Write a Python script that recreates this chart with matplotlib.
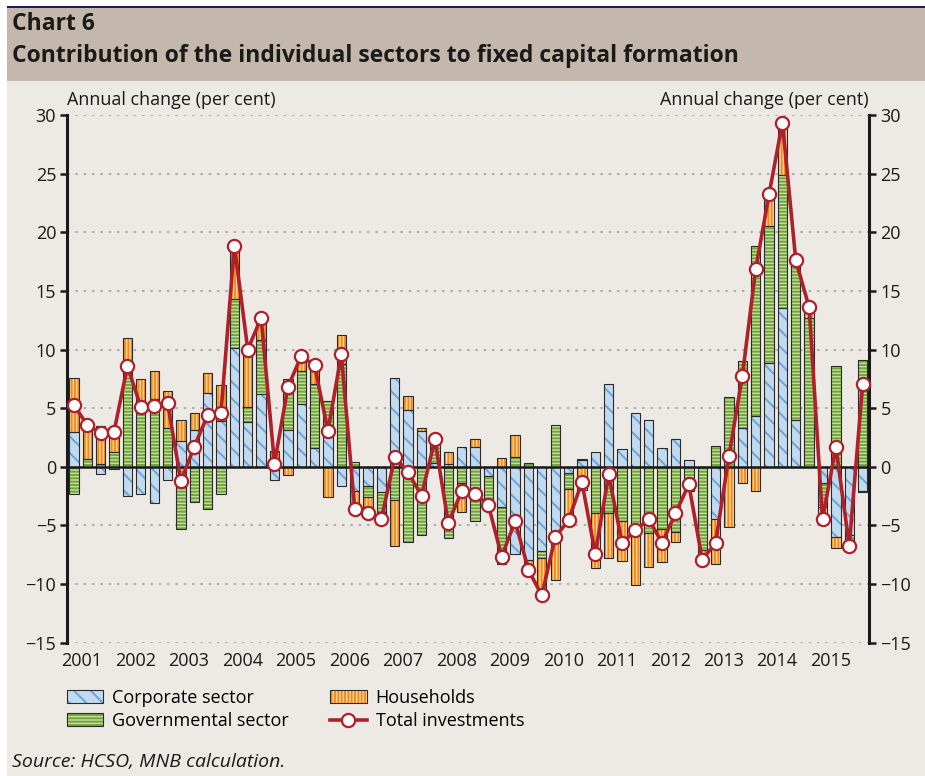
import numpy as np
import matplotlib.pyplot as plt
from matplotlib.patches import Rectangle, Patch
from matplotlib.lines import Line2D

plt.rcParams['font.family'] = ['Open Sans', 'DejaVu Sans']
plt.rcParams['hatch.linewidth'] = 1.35

years = [str(y) for y in range(2001, 2016)]

# quarterly contributions, 2001 Q1 - 2015 Q4 (percentage points)
corporate = [2.93, 0, -0.65, -0.2,
             -2.47, -2.36, -3.07, -1.14,
             2.2, 3.1, 6.33, 3.92,
             10.14, 3.84, 6.25, -1.14,
             3.13, 5.34, 1.62, 2.5,
             -1.62, -2.05, -1.65, -2.19,
             7.59, 4.83, 3.07, 0.35,
             0.2, 1.7, 1.7, -0.77,
             -3.41, -7.44, -7.95, -7.19,
             -5.48, -0.57, 0.55, 1.28,
             7.02, 1.5, 4.63, 4.03,
             1.59, 2.41, 0.6, 0,
             -4.49, 0, 3.32, 4.35,
             8.89, 13.58, 3.95, 0,
             -1.34, -5.97, -5.8, -2.07]
government = [-2.36, 0.68, 0.28, 1.3,
              8.0, 5.2, 5.74, 3.3,
              -5.34, -2.98, -3.58, -2.36,
              4.15, 1.22, 4.6, 0,
              4.34, 2.79, 5.48, 3.07,
              8.8, 0.37, -0.91, -1.65,
              -2.87, -6.42, -5.82, 1.65,
              -6.1, -1.36, -4.6, -2.45,
              -4.9, 0.85, 0.34, -0.57,
              3.6, -1.36, 0.15, -3.98,
              -3.98, -4.6, -5.82, -5.68,
              -5.3, -5.6, -2.1, -7.1,
              1.79, 5.97, 5.68, 14.51,
              11.65, 11.28, 13.24, 12.65,
              -2.07, 8.6, -0.4, 9.15]
households = [4.67, 2.85, 3.2, 1.7,
              3.0, 2.27, 2.44, 3.18,
              1.83, 1.45, 1.67, 3.07,
              4.57, 4.94, 1.85, 1.36,
              -0.74, 1.1, 1.5, -2.56,
              2.45, -2.01, -1.28, -0.6,
              -3.86, 1.22, 0.25, 0,
              1.05, -2.47, 0.63, 0,
              0.71, 1.9, -1.34, -3.3,
              -4.18, -2.6, -2.0, -4.69,
              -3.78, -3.44, -4.26, -2.87,
              -2.8, -0.85, 0, -0.85,
              -3.84, -5.11, -1.34, -2.05,
              2.7, 4.5, 0.3, 0.9,
              -1.1, -0.99, -0.55, -0.1]
total = [5.26, 3.55, 2.9, 3.0,
         8.6, 5.08, 5.2, 5.45,
         -1.22, 1.73, 4.4, 4.63,
         18.86, 10.0, 12.7, 0.28,
         6.79, 9.45, 8.64, 3.04,
         9.6, -3.6, -3.9, -4.46,
         0.82, -0.48, -2.47, 2.33,
         -4.8, -2.1, -2.3, -3.24,
         -7.67, -4.63, -8.8, -10.97,
         -6.0, -4.55, -1.31, -7.44,
         -0.65, -6.5, -5.43, -4.46,
         -6.5, -3.96, -1.5, -7.93,
         -6.48, 0.91, 7.73, 16.85,
         23.24, 29.35, 17.6, 13.6,
         -4.49, 1.7, -6.73, 7.02]

W, H = 925, 776
fig = plt.figure(figsize=(W / 100, H / 100), dpi=100)
fig.patch.set_facecolor('white')

# panel background, header band and the thin navy rule on top
fig.patches.append(Rectangle((7 / W, 0), 1, 1 - 81 / H, transform=fig.transFigure,
                             facecolor='#EDE9E5', edgecolor='none', zorder=-5))
fig.patches.append(Rectangle((7 / W, 1 - 81 / H), 1, 73 / H, transform=fig.transFigure,
                             facecolor='#C4B8AC', edgecolor='none', zorder=-5))
fig.patches.append(Rectangle((7 / W, 1 - 8 / H), 1, 2.5 / H, transform=fig.transFigure,
                             facecolor='#1C1F5C', edgecolor='none', zorder=-5))

fig.text(12 / W, 1 - 24 / H, 'Chart 6', fontsize=16.5, fontweight='bold',
         color='#1a1a1a', va='center', ha='left')
fig.text(12 / W, 1 - 56 / H, 'Contribution of the individual sectors to fixed capital formation',
         fontsize=16.5, fontweight='bold', color='#1a1a1a', va='center', ha='left')

ax = fig.add_axes([67.3 / W, 1 - 642.7 / H, 802 / W, 527.7 / H])
ax.set_facecolor('none')

x = np.arange(len(total))
styles = [
    (corporate, '#C2DAF0', '\\\\', '#6AA2D6'),
    (government, '#C4DCA6', '-----', '#6FA332'),
    (households, '#FDD3A0', '|||||', '#F58A12'),
]
pos_base = np.zeros(len(x))
neg_base = np.zeros(len(x))
for vals, fc, hatch, hc in styles:
    v = np.array(vals, dtype=float)
    bottom = np.where(v >= 0, pos_base, neg_base)
    lw = np.where(v != 0, 0.8, 0)
    ax.bar(x, v, 0.7, bottom=bottom, color=fc, edgecolor=hc, hatch=hatch,
           linewidth=0, zorder=2)
    ax.bar(x, v, 0.7, bottom=bottom, fill=False, edgecolor='#2a2a2a',
           linewidth=lw, zorder=3)
    pos_base += np.where(v > 0, v, 0)
    neg_base += np.where(v < 0, v, 0)

ax.axhline(0, color='#1a1a1a', lw=1.8, zorder=4)
ax.plot(x, total, color='#B0202A', lw=2.6, marker='o', ms=9.5, mfc='white',
        mec='#B0202A', mew=1.6, zorder=5, clip_on=False)

ax.set_xlim(-0.5, len(x) - 0.5)
ax.set_ylim(-15, 30)
ax.set_yticks(range(-15, 31, 5))
ax.yaxis.grid(True, linestyle=(0, (1.5, 3.5)), color='#A0A0A0', lw=1.2)
ax.set_axisbelow(True)
ax.set_xticks(np.arange(len(years)) * 4 + 0.6)
ax.set_xticklabels(years)
ax.tick_params(axis='x', length=0, labelsize=13, pad=7, colors='#1a1a1a')
ax.tick_params(axis='y', left=True, right=True, labelleft=True, labelright=True,
               direction='out', length=5, width=1.8, labelsize=13, pad=3,
               colors='#1a1a1a')
for s in ['top', 'bottom']:
    ax.spines[s].set_visible(False)
for s in ['left', 'right']:
    ax.spines[s].set_linewidth(2.2)
    ax.spines[s].set_color('#1a1a1a')

fig.text(67 / W, 1 - 100 / H, 'Annual change (per cent)', fontsize=13,
         color='#1a1a1a', ha='left', va='center')
fig.text(869 / W, 1 - 100 / H, 'Annual change (per cent)', fontsize=13,
         color='#1a1a1a', ha='right', va='center')

handles = []
for vals, fc, hatch, hc in styles:
    handles.append((Patch(facecolor=fc, edgecolor=hc, hatch=hatch, linewidth=0),
                    Patch(fill=False, edgecolor='#2a2a2a', linewidth=0.8)))
handles.append(Line2D([], [], color='#B0202A', lw=2.6, marker='o', ms=9.5,
                      mfc='white', mec='#B0202A', mew=1.6))
labels = ['Corporate sector', 'Governmental sector', 'Households', 'Total investments']
fig.legend(handles, labels, ncol=2,
           loc='upper left', bbox_to_anchor=(67 / W, 1 - 689 / H), frameon=False,
           fontsize=13, handlelength=2.0, handleheight=0.7, handletextpad=0.5,
           columnspacing=2.3, labelspacing=0.28, borderaxespad=0, borderpad=0)

fig.text(12 / W, 1 - 762 / H, 'Source: HCSO, MNB calculation.', fontsize=14,
         style='italic', color='#1a1a1a', ha='left', va='center')

fig.savefig('out.png', dpi=100, facecolor=fig.get_facecolor())
